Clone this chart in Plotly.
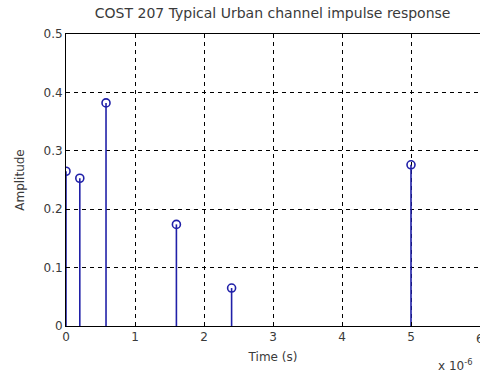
import plotly.graph_objects as go

# Data (delay in microseconds, amplitude)
delays_us = [0.0, 0.2, 0.58, 1.6, 2.4, 5.0]
amplitudes = [0.265, 0.253, 0.382, 0.174, 0.065, 0.276]
x_ticks = [0, 1, 2, 3, 4, 5, 6]
y_ticks = [0, 0.1, 0.2, 0.3, 0.4, 0.5]
y_tick_labels = ["0", "0.1", "0.2", "0.3", "0.4", "0.5"]

stem_color = "#2020a8"
txt_color = "#3a3a3a"
fam = "DejaVu Sans, Arial, sans-serif"

sx, sy = [], []
for t, a in zip(delays_us, amplitudes):
    sx += [t, t, None]
    sy += [0, a, None]

fig = go.Figure()
fig.add_trace(go.Scatter(x=sx, y=sy, mode="lines",
                         line=dict(color=stem_color, width=1.6),
                         hoverinfo="skip", showlegend=False))
fig.add_trace(go.Scatter(x=delays_us, y=amplitudes, mode="markers",
                         marker=dict(symbol="circle-open", size=8,
                                     color=stem_color, line=dict(width=1.6)),
                         showlegend=False))

font = dict(family=fam, size=12, color=txt_color)

fig.update_layout(
    width=480, height=374,
    margin=dict(l=66, r=0, t=34, b=48),
    paper_bgcolor="white", plot_bgcolor="white",
    font=font,
    title=dict(text="COST 207 Typical Urban channel impulse response",
               x=0.568, xanchor="center", y=0.966, yanchor="middle",
               font=dict(size=14, color=txt_color, family=fam)),
    xaxis=dict(range=[0, 6], tickvals=x_ticks[:-1], ticktext=[str(v) for v in x_ticks[:-1]],
               showgrid=True, gridcolor="black", griddash="4px,4px", gridwidth=1,
               showline=True, linecolor="black", linewidth=1, mirror=True,
               ticks="inside", ticklen=4, tickcolor="black", zeroline=False,
               tickfont=dict(size=12),
               title=dict(text="Time (s)", standoff=9, font=dict(size=12))),
    yaxis=dict(range=[0, 0.5], tickvals=y_ticks, ticktext=y_tick_labels,
               showgrid=True, gridcolor="black", griddash="4px,4px", gridwidth=1,
               showline=True, linecolor="black", linewidth=1, mirror=True,
               ticks="inside", ticklen=4, tickcolor="black", zeroline=False,
               tickfont=dict(size=12),
               title=dict(text="Amplitude", standoff=16, font=dict(size=12))),
)

# last x tick label, clipped at the window edge as in the reference
fig.add_annotation(text=str(x_ticks[-1]), xref="x", yref="paper",
                   x=x_ticks[-1], y=0, xanchor="center", yanchor="top",
                   yshift=-4, showarrow=False, font=dict(size=12, color=txt_color))

fig.add_annotation(text="x 10<sup>-6</sup>", xref="paper", yref="paper",
                   x=1.0, y=-0.1, xanchor="left", yanchor="top",
                   xshift=-44, showarrow=False, font=dict(size=12, color=txt_color))

fig.write_html("out.html")
